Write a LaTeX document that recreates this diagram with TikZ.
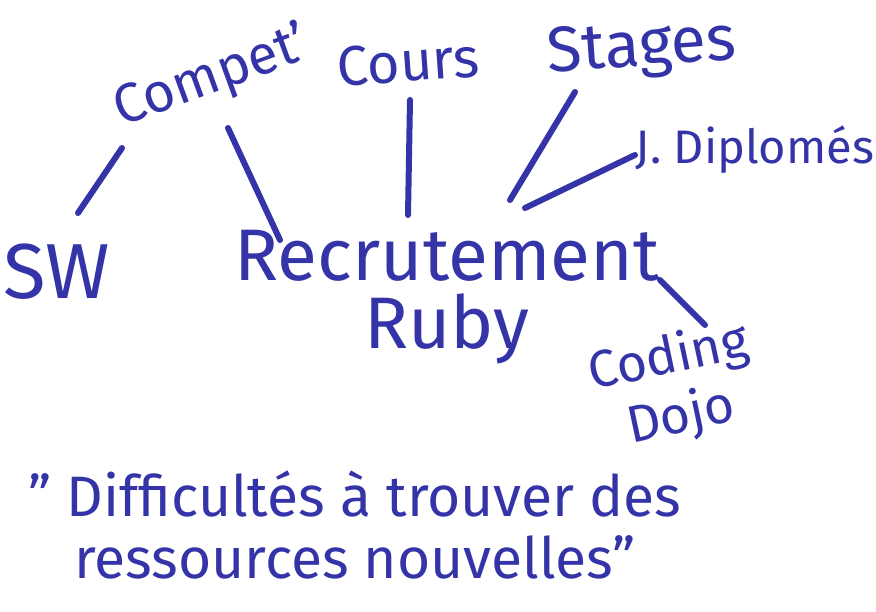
\documentclass[tikz,border=0pt]{standalone}
\usepackage{fontspec}
\setmainfont{Fira Sans}
\definecolor{ink}{RGB}{52,52,168}
\begin{document}
\begin{tikzpicture}[x=1pt,y=-1pt,
  hand/.style={text=ink, inner sep=0pt, align=center},
  link/.style={draw=ink, line width=6pt, line cap=round}]
\fill[white] (0,0) rectangle (876,611);
\useasboundingbox (0,0) rectangle (876,611);
\node[hand, font=\fontsize{55}{60}\selectfont, rotate=20] (compet) at (212,78) {Compet'};
\node[hand, font=\fontsize{56}{60}\selectfont, rotate=4] (cours) at (408,62) {Cours};
\node[hand, font=\fontsize{64}{68}\selectfont, rotate=4] (stages) at (642,50) {Stages};
\node[hand, font=\fontsize{47}{50}\selectfont] (dipl) at (755,150) {J. Diplomés};
\node[hand, font=\fontsize{78}{80}\selectfont] (sw) at (57,272) {SW};
\node[hand, font=\fontsize{73}{68}\selectfont] (rec) at (447,297) {Recrutement\\Ruby};
\node[hand, font=\fontsize{52}{60}\selectfont, rotate=12] (coding) at (675,388) {Coding\\Dojo};
\node[hand, font=\fontsize{57}{62}\selectfont] (quote) at (355,525) {" Difficultés à trouver des\\ressources nouvelles"};
\draw[link] ([shift={(21,-59)}]sw.center) -- ([shift={(-90,70)}]compet.center);
\draw[link] ([shift={(16,50)}]compet.center) -- ([shift={(-167,-57)}]rec.center);
\draw[link] ([shift={(2,38)}]cours.center) -- ([shift={(-39,-82)}]rec.center);
\draw[link] ([shift={(-67,42)}]stages.center) -- ([shift={(63,-97)}]rec.center);
\draw[link] ([shift={(-120,5)}]dipl.center) -- ([shift={(78,-89)}]rec.center);
\draw[link] ([shift={(213,-17)}]rec.center) -- ([shift={(30,-63)}]coding.center);
\end{tikzpicture}
\end{document}
